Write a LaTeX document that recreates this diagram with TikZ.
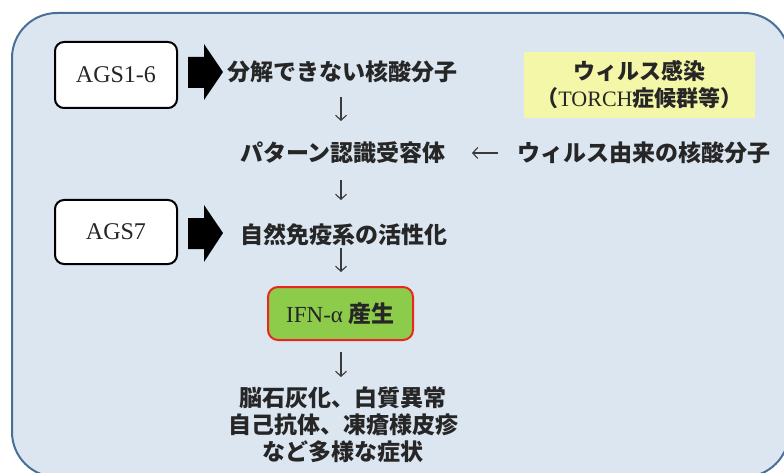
\documentclass[tikz,border=0pt]{standalone}
\usepackage{fontspec}
\setmainfont{Liberation Serif}
\newfontfamily\jp{Noto Sans CJK JP}
\usetikzlibrary{calc,arrows.meta}
\definecolor{bgblue}{HTML}{DCE6F1}
\definecolor{edgeblue}{HTML}{4A6F97}
\definecolor{yel}{HTML}{F4F7A8}
\definecolor{grn}{HTML}{8DCB4B}
\definecolor{redb}{HTML}{E82820}
\definecolor{ink}{HTML}{262626}
\definecolor{arrink}{HTML}{3A3A3A}
\begin{document}
\begin{tikzpicture}[x=1pt,y=-1pt,
  agsbox/.style={draw=black, line width=2pt, fill=white, rounded corners=9pt,
    minimum width=122pt, minimum height=66pt, inner sep=0pt, text=ink,
    font=\fontsize{24}{24}\selectfont},
  jptext/.style={inner sep=0pt, text=ink, align=center,
    font=\jp\bfseries\fontsize{23}{27}\selectfont},
  yelbox/.style={fill=yel, minimum width=231pt, minimum height=66pt, inner sep=0pt,
    text=ink, align=center, font=\jp\bfseries\fontsize{22}{27}\selectfont},
  ifnbox/.style={draw=redb, line width=2pt, fill=grn, rounded corners=10pt,
    minimum width=145pt, minimum height=53pt, inner sep=0pt, text=ink,
    font=\fontsize{23}{23}\selectfont},
  thinarr/.style={draw=arrink, line width=1.1pt,
    -{Straight Barb[length=5pt,width=11pt]}},
  bigarr/.style={fill=black}
]
\useasboundingbox (0,0) rectangle (784,473);
\begin{scope}
  \clip (0,0) rectangle (784,473);
  \draw[edgeblue, line width=2pt, fill=bgblue, rounded corners=45pt]
    (12,13) rectangle (789,477);
\end{scope}

\node[agsbox] (ags1) at (116,75) {AGS1-6};
\node[agsbox, minimum height=64pt] (ags7) at (116,232) {AGS7};

\node[jptext] (t1) at (342,72) {分解できない核酸分子};
\node[jptext] (t2) at (343,153) {パターン認識受容体};
\node[jptext] (t3) at (344,235) {自然免疫系の活性化};
\node[ifnbox] (ifn) at (340.5,313.5) {\raisebox{-5pt}{IFN-α {\jp\bfseries 産生}}};
\node[jptext] (t5) at (343,425) {脳石灰化、白質異常\\自己抗体、凍瘡様皮疹\\など多様な症状};
\node[jptext] (vir) at (644,153) {ウィルス由来の核酸分子};
\node[yelbox] (inf) at (639.5,85) {ウィルス感染\\（{\rmfamily\mdseries TORCH}症候群等）};

% big arrows
\fill[bigarr] ($(ags1.east)+(10,-18)$) -- ++(16,0) -- ++(0,-13) -- ++(19,28)
  -- ++(-19,28) -- ++(0,-12) -- ++(-16,0) -- cycle;
\fill[bigarr] ($(ags7.east)+(10,-14)$) -- ++(16,0) -- ++(0,-13) -- ++(19,28)
  -- ++(-19,29) -- ++(0,-13) -- ++(-16,0) -- cycle;

% thin arrows
\draw[thinarr] ($(t1)+(-1,25)$) -- ($(t2)+(-2,-32)$);
\draw[thinarr] ($(t2)+(-2,27)$) -- ($(t3)+(-3,-35)$);
\draw[thinarr] ($(t3)+(-3,13)$) -- ($(ifn)+(0.5,-41.5)$);
\draw[thinarr] ($(ifn)+(0.5,38.5)$) -- ($(t5)+(-2,-48)$);
\draw[thinarr] ($(vir)+(-146,0)$) -- ($(t2)+(129,0)$);
\end{tikzpicture}
\end{document}
